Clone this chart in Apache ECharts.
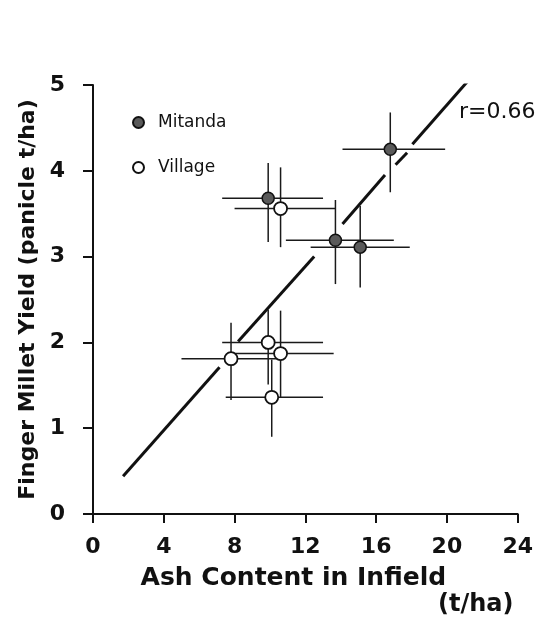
<!DOCTYPE html>
<html>
<head>
    <meta charset="utf-8">
    <title>Finger Millet Yield vs Ash Content</title>
    <script src="https://cdn.jsdelivr.net/npm/echarts@6/dist/echarts.min.js"></script>
    <style>
        html, body { margin: 0; padding: 0; background: #fff; }
        #chart1 { width: 536px; height: 619px; }
    </style>
</head>
<body>
<div id="chart1"></div>
<script type="text/javascript">
    // x ticks / y ticks
    var xTicks = [0, 4, 8, 12, 16, 20, 24];
    var yTicks = [0, 1, 2, 3, 4, 5];

    // Mitanda: point, then error bar ends
    var mitandaX = [16.8, 9.9, 13.7, 15.1];
    var mitandaY = [4.25, 3.68, 3.19, 3.11];
    var mitandaXLo = [14.1, 7.3, 10.9, 12.3];
    var mitandaXHi = [19.9, 13.0, 17.0, 17.9];
    var mitandaYLo = [3.75, 3.17, 2.68, 2.64];
    var mitandaYHi = [4.68, 4.09, 3.66, 3.59];

    // Village
    var villageX = [10.6, 7.8, 9.9, 10.6, 10.1];
    var villageY = [3.56, 1.81, 2.0, 1.87, 1.36];
    var villageXLo = [8.0, 5.0, 7.3, 7.6, 7.5];
    var villageXHi = [13.7, 10.5, 13.0, 13.6, 13.0];
    var villageYLo = [3.11, 1.33, 1.51, 1.36, 0.9];
    var villageYHi = [4.04, 2.23, 2.38, 2.37, 1.8];

    // regression line, drawn in broken pieces like the original
    var fitStart = [[1.7, 0.44], [8.2, 2.01], [14.1, 3.38], [17.1, 4.07], [18.05, 4.31]];
    var fitEnd = [[7.15, 1.71], [12.5, 3.0], [16.5, 3.95], [17.75, 4.21], [21.5, 5.12]];

    var rLabel = 'r=0.66';

    function rows(x, y, xlo, xhi, ylo, yhi) {
        var out = [];
        for (var i = 0; i < x.length; i++) {
            out.push([x[i], y[i], xlo[i], xhi[i], ylo[i], yhi[i]]);
        }
        return out;
    }

    function pts(x, y) {
        var out = [];
        for (var i = 0; i < x.length; i++) out.push([x[i], y[i]]);
        return out;
    }

    function errorBars(params, api) {
        var l = api.coord([api.value(2), api.value(1)]);
        var r = api.coord([api.value(3), api.value(1)]);
        var b = api.coord([api.value(0), api.value(4)]);
        var t = api.coord([api.value(0), api.value(5)]);
        var st = {stroke: '#1a1a1a', lineWidth: 1.5};
        return {
            type: 'group',
            children: [
                {type: 'line', shape: {x1: l[0], y1: l[1], x2: r[0], y2: r[1]}, style: st},
                {type: 'line', shape: {x1: b[0], y1: b[1], x2: t[0], y2: t[1]}, style: st}
            ]
        };
    }

    var fitLines = [];
    for (var i = 0; i < fitStart.length; i++) {
        fitLines.push({coords: [fitStart[i], fitEnd[i]]});
    }

    var font = 'DejaVu Sans';
    var myChart1 = echarts.init(document.getElementById('chart1'));

    myChart1.setOption({
        animation: false,
        backgroundColor: '#fff',
        textStyle: {fontFamily: font, color: '#111'},
        grid: {left: 93, right: 13, top: 85, bottom: 105},
        legend: {
            data: ['Mitanda', 'Village'],
            orient: 'vertical',
            left: 127,
            top: 109,
            itemWidth: 11,
            itemHeight: 11,
            itemGap: 28,
            icon: 'circle',
            textStyle: {fontFamily: font, fontSize: 17, color: '#111', padding: [0, 0, 0, 9]}
        },
        xAxis: {
            type: 'value',
            min: 0, max: 24, interval: 4,
            name: 'Ash Content in Infield',
            nameLocation: 'middle',
            nameGap: 52,
            nameTextStyle: {fontFamily: font, fontSize: 25, fontWeight: 'bold', color: '#111', padding: [0, 24, 0, 0]},
            axisLine: {lineStyle: {color: '#111', width: 2}},
            axisTick: {length: 9, lineStyle: {color: '#111', width: 2}},
            axisLabel: {
                margin: 22, fontFamily: font, fontSize: 22, fontWeight: 'bold', color: '#111',
                customValues: xTicks
            },
            splitLine: {show: false}
        },
        yAxis: {
            type: 'value',
            min: 0, max: 5, interval: 1,
            name: 'Finger Millet Yield (panicle t/ha)',
            nameLocation: 'middle',
            nameGap: 48,
            nameTextStyle: {fontFamily: font, fontSize: 22, fontWeight: 'bold', color: '#111'},
            axisLine: {show: true, lineStyle: {color: '#111', width: 2}},
            axisTick: {show: true, length: 10, lineStyle: {color: '#111', width: 2}},
            axisLabel: {
                margin: 28, fontFamily: font, fontSize: 22, fontWeight: 'bold', color: '#111',
                customValues: yTicks
            },
            splitLine: {show: false}
        },
        graphic: [
            {type: 'text', left: 438, top: 593, style: {text: '(t/ha)', font: 'bold 24px "DejaVu Sans"', fill: '#111'}},
            {type: 'text', left: 459, top: 101, style: {text: rLabel, font: '22px "DejaVu Sans"', fill: '#111'}}
        ],
        series: [
            {
                name: 'fit',
                type: 'lines',
                coordinateSystem: 'cartesian2d',
                data: fitLines,
                lineStyle: {color: '#111', width: 3, opacity: 1},
                z: 2
            },
            {
                name: 'Mitanda bars',
                type: 'custom',
                renderItem: errorBars,
                data: rows(mitandaX, mitandaY, mitandaXLo, mitandaXHi, mitandaYLo, mitandaYHi),
                encode: {x: 0, y: 1},
                z: 3
            },
            {
                name: 'Village bars',
                type: 'custom',
                renderItem: errorBars,
                data: rows(villageX, villageY, villageXLo, villageXHi, villageYLo, villageYHi),
                encode: {x: 0, y: 1},
                z: 3
            },
            {
                name: 'Mitanda',
                type: 'scatter',
                data: pts(mitandaX, mitandaY),
                symbolSize: 12,
                itemStyle: {color: '#5a5a5a', borderColor: '#111', borderWidth: 1.5, opacity: 1},
                z: 5
            },
            {
                name: 'Village',
                type: 'scatter',
                data: pts(villageX, villageY),
                symbolSize: 13,
                itemStyle: {color: '#fff', borderColor: '#111', borderWidth: 1.8, opacity: 1},
                z: 5
            }
        ]
    });
</script>
</body>
</html>
